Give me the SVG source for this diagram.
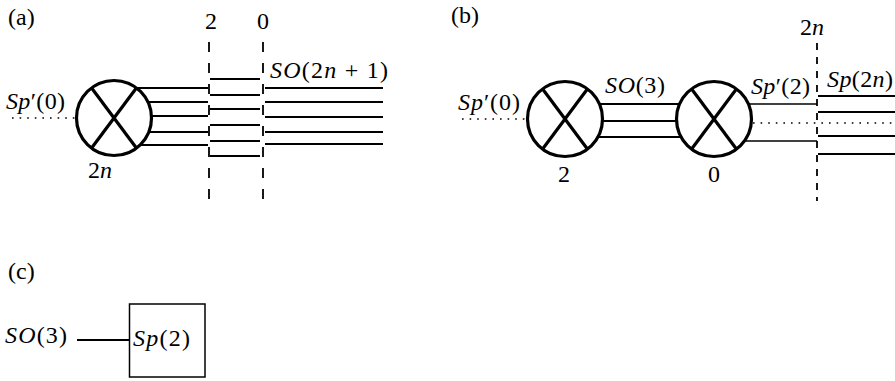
<svg xmlns="http://www.w3.org/2000/svg" width="895" height="381" viewBox="0 0 895 381">
<style>
  .t { fill: #000; font-family: 'Liberation Serif', 'Times New Roman', serif; }
  .lab { font-size: 24px; }
  .m { font-size: 24px; }
  .i { font-style: italic; }
  .circ { fill: #fff; stroke: #000; stroke-width: 3.2; }
  .x { stroke: #000; stroke-width: 3.2; stroke-linecap: butt; }
  .ln { stroke: #000; stroke-width: 1.8; fill: none; }
  .thin { stroke: #000; stroke-width: 1.3; fill: none; }
  .dot { stroke: #000; stroke-width: 1.6; stroke-dasharray: 1.6 6; fill: none; }
  .dashA { stroke: #000; stroke-width: 1.8; stroke-dasharray: 10 11; fill: none; }
  .dashB { stroke: #000; stroke-width: 1.8; stroke-dasharray: 7 7; fill: none; }
  .box { fill: #fff; stroke: #000; stroke-width: 1.5; }
</style>
<defs>
  <g id="otimes">
    <circle class="circ" cx="0" cy="0" r="37.5"/>
    <line class="x" x1="-22" y1="-29.5" x2="22" y2="29.5"/>
    <line class="x" x1="22" y1="-29.5" x2="-22" y2="29.5"/>
  </g>
</defs>

<!-- Panel (a) -->
<text class="t lab" font-family="Liberation Serif, serif" x="8" y="25">(a)</text>
<g id="connectors-a">
  <line class="dot" x1="12" y1="118" x2="76" y2="118"/>
  <line class="dashA" x1="209" y1="42" x2="209" y2="205"/>
  <line class="dashA" x1="263" y1="42" x2="263" y2="205"/>
  <line class="ln" x1="136" y1="88" x2="208" y2="88"/>
  <line class="ln" x1="147" y1="102" x2="208" y2="102"/>
  <line class="ln" x1="151" y1="116" x2="208" y2="116"/>
  <line class="ln" x1="148" y1="132" x2="208" y2="132"/>
  <line class="ln" x1="139" y1="145" x2="208" y2="145"/>
  <line class="ln" x1="210" y1="79" x2="260" y2="79"/>
  <line class="ln" x1="210" y1="95" x2="260" y2="95"/>
  <line class="ln" x1="210" y1="109" x2="260" y2="109"/>
  <line class="ln" x1="210" y1="125" x2="260" y2="125"/>
  <line class="ln" x1="210" y1="141" x2="260" y2="141"/>
  <line class="ln" x1="210" y1="156" x2="260" y2="156"/>
  <line class="ln" x1="265" y1="88" x2="383" y2="88"/>
  <line class="ln" x1="265" y1="102" x2="383" y2="102"/>
  <line class="ln" x1="265" y1="117" x2="383" y2="117"/>
  <line class="ln" x1="265" y1="132" x2="383" y2="132"/>
  <line class="ln" x1="265" y1="144" x2="383" y2="144"/>
</g>
<g id="node-a-2n">
  <use href="#otimes" x="114" y="118"/>
  <text class="t m" font-family="Liberation Serif, serif" x="88" y="178"><tspan>2</tspan><tspan class="i">n</tspan></text>
</g>
<text class="t m" font-family="Liberation Serif, serif" x="6" y="109" textLength="59" lengthAdjust="spacing"><tspan class="i">Sp</tspan><tspan>′(0)</tspan></text>
<text class="t m" font-family="Liberation Serif, serif" x="270" y="78" textLength="118" lengthAdjust="spacing"><tspan class="i">SO</tspan><tspan>(2</tspan><tspan class="i">n</tspan><tspan> + 1)</tspan></text>
<text class="t m" font-family="Liberation Serif, serif" x="205" y="29">2</text>
<text class="t m" font-family="Liberation Serif, serif" x="257" y="29">0</text>

<!-- Panel (b) -->
<text class="t lab" font-family="Liberation Serif, serif" x="451" y="23">(b)</text>
<g id="connectors-b">
  <line class="dot" x1="462" y1="119" x2="526" y2="119"/>
  <line class="ln" x1="598" y1="104" x2="681" y2="104"/>
  <line class="ln" x1="602" y1="121" x2="676" y2="121"/>
  <line class="ln" x1="598" y1="137" x2="681" y2="137"/>
  <line class="thin" x1="748" y1="104" x2="817" y2="104"/>
  <line class="thin" x1="746" y1="141" x2="817" y2="141"/>
  <line class="dot" x1="753" y1="123" x2="895" y2="123"/>
  <line class="dashB" x1="817" y1="43" x2="817" y2="201"/>
  <line class="ln" x1="818" y1="96" x2="895" y2="96"/>
  <line class="ln" x1="818" y1="112" x2="895" y2="112"/>
  <line class="ln" x1="818" y1="136" x2="895" y2="136"/>
  <line class="ln" x1="818" y1="154" x2="895" y2="154"/>
</g>
<g id="node-b-2">
  <use href="#otimes" x="565" y="119"/>
  <text class="t m" font-family="Liberation Serif, serif" x="558" y="182">2</text>
</g>
<g id="node-b-0">
  <use href="#otimes" x="714" y="119"/>
  <text class="t m" font-family="Liberation Serif, serif" x="708" y="182">0</text>
</g>
<text class="t m" font-family="Liberation Serif, serif" x="458" y="110" textLength="62" lengthAdjust="spacing"><tspan class="i">Sp</tspan><tspan>′(0)</tspan></text>
<text class="t m" font-family="Liberation Serif, serif" x="605" y="93" textLength="60" lengthAdjust="spacing"><tspan class="i">SO</tspan><tspan>(3)</tspan></text>
<text class="t m" font-family="Liberation Serif, serif" x="751" y="94" textLength="59" lengthAdjust="spacing"><tspan class="i">Sp</tspan><tspan>′(2)</tspan></text>
<text class="t m" font-family="Liberation Serif, serif" x="827" y="87" textLength="66" lengthAdjust="spacing"><tspan class="i">Sp</tspan><tspan>(2</tspan><tspan class="i">n</tspan><tspan>)</tspan></text>
<text class="t m" font-family="Liberation Serif, serif" x="800" y="35"><tspan>2</tspan><tspan class="i">n</tspan></text>

<!-- Panel (c) -->
<text class="t lab" font-family="Liberation Serif, serif" x="8" y="279">(c)</text>
<g id="connectors-c">
  <line class="ln" x1="77" y1="340" x2="130" y2="340"/>
</g>
<g id="node-c-so3">
  <text class="t m" font-family="Liberation Serif, serif" x="5" y="343" textLength="62" lengthAdjust="spacing"><tspan class="i">SO</tspan><tspan>(3)</tspan></text>
</g>
<g id="node-c-sp2">
  <rect class="box" x="129.5" y="304" width="75.5" height="73"/>
  <text class="t m" font-family="Liberation Serif, serif" x="133" y="346" textLength="57" lengthAdjust="spacing"><tspan class="i">Sp</tspan><tspan>(2)</tspan></text>
</g>
</svg>
